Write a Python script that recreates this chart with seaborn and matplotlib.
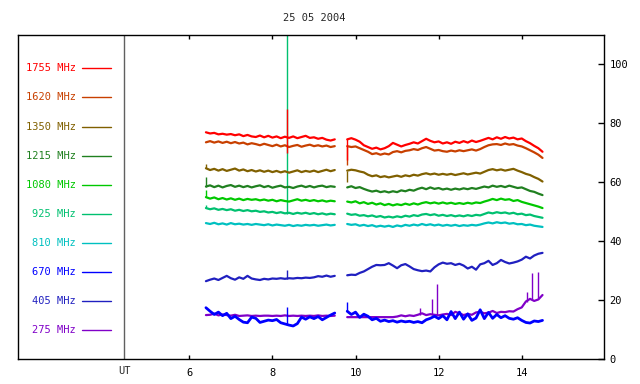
import numpy as np
import pandas as pd
import matplotlib
matplotlib.use("Agg")
import matplotlib.pyplot as plt
import matplotlib.transforms as mtransforms
import seaborn as sns

title = "25 05 2004"
freqs = ["1755 MHz", "1620 MHz", "1350 MHz", "1215 MHz", "1080 MHz",
         "925 MHz", "810 MHz", "670 MHz", "405 MHz", "275 MHz"]
colors = ["#ff0000", "#c84000", "#806000", "#208020", "#00c800",
          "#00c070", "#00c0c0", "#0000ff", "#2020c0", "#8000c8"]

t1 = np.round(np.arange(6.4, 9.55, 0.1), 2)   # first observing block (UT hours)
t2 = np.round(np.arange(9.8, 14.55, 0.1), 2)  # second observing block

s1_1755 = [77.0, 76.6, 76.8, 76.3, 76.5, 76.2, 76.4, 76.0,
           76.3, 75.7, 76.1, 75.6, 75.4, 75.9, 75.3, 75.8,
           75.2, 75.6, 75.0, 75.5, 75.1, 75.6, 75.0, 75.4,
           75.8, 75.1, 75.3, 74.8, 75.1, 74.5, 74.2, 74.6]
s2_1755 = [74.6, 75.0, 74.5, 73.8, 72.6, 72.0, 71.4, 71.8,
           71.2, 71.6, 72.3, 73.4, 72.8, 72.2, 72.7, 73.1,
           73.6, 73.2, 74.0, 74.8, 74.1, 73.6, 73.9, 73.2,
           73.6, 73.1, 73.8, 73.4, 74.0, 73.5, 74.2, 73.7,
           74.1, 74.6, 75.1, 74.6, 75.3, 74.8, 75.4, 74.9,
           75.2, 74.6, 74.9, 74.0, 73.3, 72.4, 71.6, 70.4]

s1_1620 = [73.6, 74.0, 73.5, 73.9, 73.4, 73.8, 73.3, 73.7,
           73.2, 73.5, 72.9, 73.3, 73.0, 72.6, 73.1, 72.7,
           72.3, 72.8, 72.2, 72.6, 72.0, 72.4, 72.7, 72.1,
           72.5, 72.8, 72.3, 72.6, 72.2, 72.5, 72.0, 72.3]
s2_1620 = [72.3, 72.0, 72.2, 71.6, 71.0, 70.4, 69.6, 69.9,
           69.4, 69.8, 69.5, 70.3, 70.6, 70.2, 70.7, 70.9,
           71.3, 71.0, 71.6, 72.0, 71.4, 70.8, 71.0, 70.6,
           70.4, 70.8, 70.5, 70.9, 70.6, 70.9, 71.2, 70.8,
           71.3, 72.0, 72.6, 72.9, 73.0, 72.7, 73.2, 72.8,
           73.0, 72.5, 72.2, 71.6, 70.9, 70.2, 69.4, 68.3]

s1_1350 = [64.8, 64.2, 64.6, 64.0, 64.5, 63.9, 64.3, 64.7,
           64.0, 64.4, 63.8, 64.2, 63.7, 64.1, 63.6, 64.0,
           63.5, 63.9, 63.4, 63.8, 63.3, 63.7, 64.1, 63.5,
           63.9, 63.6, 64.0, 63.5, 63.9, 64.3, 63.8, 64.2]
s2_1350 = [64.0, 64.3, 64.1, 63.7, 63.4, 62.6, 62.1, 62.4,
           61.8, 62.1, 61.7, 62.0, 62.3, 61.9, 62.4, 62.1,
           62.6, 62.3, 62.8, 63.1, 62.7, 63.0, 62.6, 62.9,
           62.6, 62.9, 62.5, 62.8, 63.1, 62.7, 63.0, 63.3,
           63.0, 63.6, 64.2, 64.5, 64.1, 64.4, 64.0, 64.3,
           64.6, 64.0, 63.5, 62.9, 62.5, 61.8, 61.2, 60.3]

s1_1215 = [58.6, 59.0, 58.4, 58.9, 58.3, 58.8, 59.1, 58.5,
           58.9, 58.4, 58.8, 58.3, 58.7, 59.0, 58.4, 58.8,
           58.2, 58.6, 58.9, 58.3, 58.5, 58.1, 58.6, 58.9,
           58.4, 58.8, 58.3, 58.7, 58.9, 58.4, 58.7, 58.5]
s2_1215 = [58.3, 58.7, 58.1, 58.4, 57.8, 57.3, 56.9, 57.2,
           56.7, 57.0, 56.6, 57.0, 56.7, 57.3, 57.0, 57.5,
           57.2, 57.8, 58.2, 57.7, 58.3, 57.8, 58.1, 57.6,
           57.9, 57.5, 57.9, 57.6, 58.0, 57.7, 58.1, 57.8,
           58.2, 58.6, 58.3, 58.9, 58.5, 58.8, 58.4, 58.9,
           58.5, 58.1, 58.3, 57.7, 57.1, 56.8, 56.2, 55.7]

s1_1080 = [55.0, 54.5, 54.9, 54.3, 54.7, 54.2, 54.6, 54.1,
           54.5, 54.0, 54.4, 54.1, 54.3, 53.9, 54.2, 53.8,
           54.1, 53.6, 54.0, 53.7, 53.5, 53.9, 54.3, 53.8,
           54.1, 53.7, 54.0, 53.6, 53.9, 53.5, 53.8, 53.6]
s2_1080 = [53.5, 53.2, 53.6, 52.9, 53.3, 52.7, 53.1, 52.5,
           52.9, 52.3, 52.7, 52.2, 52.6, 52.3, 52.8, 52.4,
           52.9, 52.5, 53.0, 53.3, 52.9, 53.2, 52.8, 53.2,
           52.8, 53.1, 52.7, 53.0, 52.7, 53.1, 52.8, 53.2,
           53.0, 53.5, 53.9, 54.4, 54.0, 54.5, 54.1, 54.3,
           53.7, 54.0, 53.4, 53.0, 52.6, 52.2, 51.8, 51.3]

s1_925 = [51.3, 50.9, 51.2, 50.7, 51.0, 50.6, 50.9, 50.4,
          50.7, 50.3, 50.6, 50.2, 50.4, 50.0, 50.2, 49.8,
          50.0, 49.6, 49.9, 49.5, 49.7, 49.3, 49.7, 49.4,
          49.7, 49.3, 49.6, 49.2, 49.5, 49.1, 49.4, 49.2]
s2_925 = [49.4, 49.0, 49.2, 48.7, 48.9, 48.5, 48.8, 48.3,
          48.6, 48.1, 48.4, 48.1, 48.5, 48.2, 48.7, 48.4,
          48.9, 48.6, 49.1, 49.3, 48.9, 49.2, 48.7, 49.0,
          48.6, 48.9, 48.5, 48.8, 48.5, 48.9, 48.6, 49.0,
          48.8, 49.3, 49.8, 49.5, 49.9, 49.6, 49.8, 49.4,
          49.7, 49.2, 49.4, 48.9, 49.1, 48.6, 48.3, 48.0]

s1_810 = [46.2, 45.9, 46.3, 45.8, 46.1, 45.7, 46.2, 45.8,
          46.0, 45.7, 45.9, 45.6, 45.9, 45.7, 45.5, 45.8,
          45.4, 45.7, 45.5, 45.3, 45.6, 45.2, 45.5, 45.3,
          45.6, 45.4, 45.6, 45.3, 45.5, 45.7, 45.4, 45.6]
s2_810 = [45.9, 45.6, 45.8, 45.3, 45.6, 45.2, 45.5, 45.0,
          45.3, 45.0, 45.3, 44.9, 45.4, 45.1, 45.6, 45.3,
          45.7, 45.4, 45.9, 45.5, 45.8, 45.4, 45.7, 45.3,
          45.6, 45.3, 45.6, 45.2, 45.5, 45.3, 45.6, 45.4,
          45.7, 46.1, 46.4, 46.1, 46.5, 46.2, 46.4, 46.0,
          46.2, 45.8, 45.9, 45.5, 45.7, 45.3, 45.1, 44.9]

s1_670 = [17.5, 16.3, 15.2, 16.0, 14.8, 15.6, 13.8, 14.6,
          13.5, 12.6, 12.4, 14.3, 13.9, 12.5, 12.9, 13.3,
          13.1, 13.5, 12.4, 12.0, 11.6, 11.3, 12.1, 14.3,
          13.6, 14.4, 13.8, 14.5, 13.4, 14.2, 15.0, 15.7]
s2_670 = [16.3, 15.2, 16.0, 14.2, 15.3, 14.6, 13.4, 13.9,
          12.9, 13.3, 12.8, 13.1, 12.6, 13.0, 12.7, 12.9,
          12.5, 12.8, 12.4, 13.4, 13.9, 14.6, 13.8, 14.8,
          13.4, 16.2, 13.8, 16.0, 13.6, 15.4, 13.2, 14.0,
          16.8, 13.8, 15.9, 13.9, 15.2, 14.1, 14.8, 13.9,
          13.6, 14.1, 13.2, 12.5, 12.3, 13.0, 12.8, 13.2]

s1_405 = [26.5, 27.0, 27.4, 26.9, 27.6, 28.3, 27.5, 27.0,
          27.8, 27.3, 28.3, 27.4, 27.1, 26.9, 27.3, 27.1,
          27.4, 27.3, 27.5, 27.3, 27.5, 27.4, 27.6, 27.5,
          27.7, 27.6, 27.8, 28.2, 28.0, 28.4, 28.0, 28.3]
s2_405 = [28.5, 28.7, 28.6, 29.3, 29.8, 30.6, 31.4, 32.0,
          31.9, 32.0, 32.6, 31.8, 30.9, 31.9, 32.3, 31.5,
          30.6, 30.2, 29.9, 30.1, 29.8, 31.2, 32.2, 32.8,
          32.4, 32.6, 32.0, 32.4, 31.8, 30.8, 31.4, 30.4,
          32.2, 32.6, 33.4, 32.0, 32.6, 33.7, 33.0, 32.5,
          32.8, 33.2, 33.8, 34.8, 34.2, 35.2, 35.8, 36.1]

s1_275 = [15.0, 15.1, 15.5, 14.9, 15.2, 15.0, 14.8, 15.1,
          14.7, 14.8, 14.9, 14.7, 14.8, 14.7, 14.8, 14.8,
          14.7, 14.8, 14.7, 14.9, 14.7, 14.8, 14.7, 14.8,
          14.7, 14.8, 14.7, 14.9, 14.7, 14.8, 14.7, 14.8]
s2_275 = [14.3, 14.3, 14.3, 14.3, 14.3, 14.3, 14.3, 14.3,
          14.3, 14.3, 14.3, 14.3, 14.5, 14.9, 14.6, 14.9,
          14.7, 15.1, 15.6, 15.0, 15.3, 15.1, 14.9, 15.2,
          15.4, 15.0, 16.1, 15.6, 15.0, 15.4, 15.1, 15.9,
          16.1, 15.6, 15.8, 16.4, 15.7, 16.1, 16.0, 16.3,
          16.2, 17.0, 17.6, 19.6, 20.5, 19.8, 20.3, 21.8]

# short spikes / jumps
spike_freq = ["1755 MHz", "1755 MHz", "1620 MHz", "1350 MHz", "1350 MHz",
              "1215 MHz", "1080 MHz", "925 MHz", "925 MHz", "405 MHz",
              "670 MHz", "670 MHz", "275 MHz", "275 MHz", "275 MHz",
              "275 MHz", "275 MHz", "275 MHz"]
spike_t = [8.36, 9.8, 9.8, 6.4, 9.8, 6.4, 6.4, 6.4, 8.36, 8.36,
           8.36, 9.8, 11.55, 11.83, 11.97, 14.12, 14.24, 14.40]
spike_lo = [70.0, 67.5, 65.9, 64.8, 60.2, 58.6, 55.0, 51.3, 49.4, 27.4,
            11.6, 16.3, 15.0, 15.1, 15.0, 19.6, 20.5, 20.3]
spike_hi = [84.8, 74.6, 72.3, 66.4, 64.0, 61.7, 57.4, 52.3, 115.0, 30.2,
            17.8, 19.5, 17.3, 20.4, 25.5, 22.9, 29.2, 29.7]

seg1 = {"1755 MHz": s1_1755, "1620 MHz": s1_1620, "1350 MHz": s1_1350,
        "1215 MHz": s1_1215, "1080 MHz": s1_1080, "925 MHz": s1_925,
        "810 MHz": s1_810, "670 MHz": s1_670, "405 MHz": s1_405, "275 MHz": s1_275}
seg2 = {"1755 MHz": s2_1755, "1620 MHz": s2_1620, "1350 MHz": s2_1350,
        "1215 MHz": s2_1215, "1080 MHz": s2_1080, "925 MHz": s2_925,
        "810 MHz": s2_810, "670 MHz": s2_670, "405 MHz": s2_405, "275 MHz": s2_275}

rows = []
for f in freqs:
    for t, v in zip(t1, seg1[f]):
        rows.append((f, 1, t, v))
    for t, v in zip(t2, seg2[f]):
        rows.append((f, 2, t, v))
df = pd.DataFrame(rows, columns=["freq", "seg", "t", "v"])
spikes = pd.DataFrame({"freq": spike_freq, "t": spike_t, "lo": spike_lo, "hi": spike_hi})
palette = dict(zip(freqs, colors))

sns.set_style("white")
plt.rcParams["font.family"] = ["DejaVu Sans Mono", "DejaVu Sans"]

fig = plt.figure(figsize=(6.4, 3.84), dpi=100)
ax = fig.add_axes([18 / 640, 1 - 359.3 / 384, 586 / 640, (359.3 - 35) / 384])

# draw lowest frequency first so higher ones sit on top
for f in freqs[::-1]:
    sub = df[df["freq"] == f]
    lw = 2.0 if f == "670 MHz" else 1.6
    sns.lineplot(data=sub, x="t", y="v", units="seg", estimator=None, sort=False,
                 color=palette[f], linewidth=lw, ax=ax, legend=False)
    sp = spikes[spikes["freq"] == f]
    if len(sp):
        ax.vlines(sp["t"], sp["lo"], sp["hi"], colors=palette[f], linewidth=1.0)

ax.set_xlim(1.877, 15.98)
ax.set_ylim(0, 110)
ax.axvline(4.436, color="#606060", linewidth=1.0)

ax.set_xticks([6, 8, 10, 12, 14])
ax.set_yticks([0, 20, 40, 60, 80, 100])
ax.yaxis.tick_right()
ax.tick_params(axis="x", direction="in", top=True, bottom=True, length=3,
               width=1, labelsize=7.5, pad=6, colors="black")
ax.tick_params(axis="y", direction="in", left=False, right=True, length=4,
               width=1, labelsize=7.5, pad=4, colors="black")
ax.set_xlabel("")
ax.set_ylabel("")
for s in ax.spines.values():
    s.set_color("black")
    s.set_linewidth(1.0)
    s.set_visible(True)

# legend block on the left, one entry per 10 units
trans = mtransforms.blended_transform_factory(ax.transAxes, ax.transData)
spacing = 9.87
for i, f in enumerate(freqs):
    y = spacing * (len(freqs) - i)
    ax.text(0.0985, y, f, transform=trans, ha="right", va="center",
            color=palette[f], fontsize=7.5)
    ax.plot([0.109, 0.159], [y, y], transform=trans, color=palette[f], linewidth=1.0)

fig.text(124.5 / 640, 1 - 371 / 384, "UT", ha="center", va="center", fontsize=7.5)
fig.text(314 / 640, 1 - 18 / 384, title, ha="center", va="center", fontsize=7.5)

fig.savefig("out.png", dpi=100)
